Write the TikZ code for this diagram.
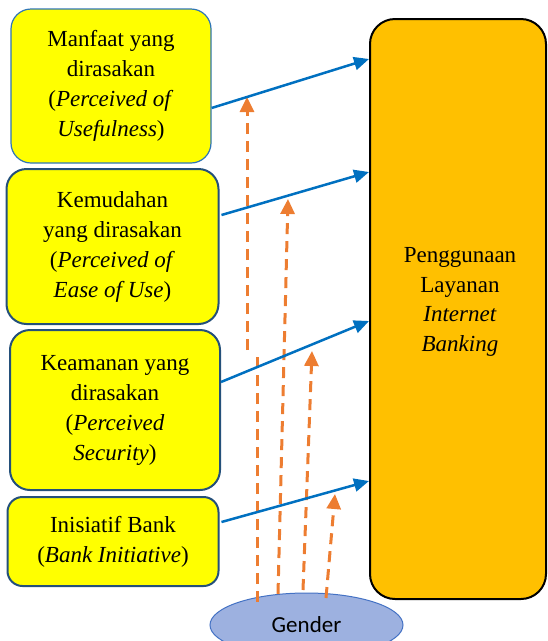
\documentclass[tikz,border=0pt]{standalone}
\usepackage{fontspec}
\setmainfont{Liberation Serif}
\newfontfamily\gendfont{Carlito}
\usetikzlibrary{arrows.meta,shapes.geometric}
\definecolor{yel}{HTML}{FFFF00}
\definecolor{gold}{HTML}{FFC000}
\definecolor{lblue}{HTML}{2E75B6}
\definecolor{dblue}{HTML}{24507A}
\definecolor{arrblue}{HTML}{0070C0}
\definecolor{orng}{HTML}{ED7D31}
\definecolor{ellfill}{HTML}{9DB1E0}
\definecolor{ellline}{HTML}{4472C4}
\tikzset{
  factor/.style={draw=dblue, line width=2pt, fill=yel, rounded corners=20pt,
    align=center, inner sep=0pt, font=\fontsize{23}{30}\selectfont},
  bluearrow/.style={draw=arrblue, line width=2.5pt, -{Triangle[width=13pt,length=15pt]}},
  dasharrow/.style={draw=orng, line width=3pt, dash pattern=on 11pt off 7pt,
    -{Triangle[width=14pt,length=15pt]}},
}
\begin{document}
\begin{tikzpicture}[x=1pt,y=-1pt]
\useasboundingbox (0,0) rectangle (548,641);
% boxes
\node[factor, draw=lblue, line width=1.2pt, minimum width=200pt, minimum height=154pt] (b1) at (111,86)
  {Manfaat yang\\dirasakan\\(\textit{Perceived of}\\\textit{Usefulness})};
\node[factor, minimum width=212pt, minimum height=155pt] (b2) at (112.5,246.5)
  {Kemudahan\\yang dirasakan\\(\textit{Perceived of}\\\textit{Ease of Use})};
\node[factor, minimum width=210pt, minimum height=160pt] (b3) at (115,410)
  {Keamanan yang\\dirasakan\\(\textit{Perceived}\\\textit{Security})};
\node[factor, rounded corners=15pt, minimum width=211pt, minimum height=89pt] (b4) at (113,541.5)
  {Inisiatif Bank\\(\textit{Bank Initiative})};
\node[draw=black, line width=2pt, fill=gold, rounded corners=25pt, minimum width=176pt, minimum height=580pt, inner sep=0pt] (pg) at (458,309) {};
\node[align=center, font=\fontsize{23}{29.5}\selectfont] (pgt) at (460,302)
  {Penggunaan\\Layanan\\\textit{Internet}\\\textit{Banking}};
\node[ellipse, draw=ellline, line width=1pt, fill=ellfill, minimum width=193pt, minimum height=64pt, inner sep=0pt] (gd) at (306.5,625) {};
\node[font=\gendfont\fontsize{23}{27}\selectfont] (gdt) at (306.5,625) {Gender};
% moderating dashed arrows
\coordinate (ga0) at (257,602);
\coordinate (ga1) at (257,350);
\coordinate (ga2) at (247,350);
\coordinate (ga3) at (247,97);
\coordinate (gb0) at (278,594);
\coordinate (gb1) at (288,199);
\coordinate (gc0) at (303,590);
\coordinate (gc1) at (312,351);
\coordinate (gd0) at (326,598);
\coordinate (gd1) at (335,494);
\draw[dasharrow] (ga0) -- (ga1) (ga2) -- (ga3);
\draw[dasharrow] (gb0) -- (gb1);
\draw[dasharrow] (gc0) -- (gc1);
\draw[dasharrow] (gd0) -- (gd1);
% direct effects
\draw[bluearrow] ([yshift=-22pt]b1.east) -- ([yshift=250pt]pg.west);
\draw[bluearrow] ([yshift=31.5pt,xshift=2pt]b2.east) -- ([yshift=137pt]pg.west);
\draw[bluearrow] ([yshift=28pt]b3.east) -- ([yshift=-12pt]pg.west);
\draw[bluearrow] ([yshift=19.5pt,xshift=2pt]b4.east) -- ([yshift=-172pt]pg.west);
\end{tikzpicture}
\end{document}
